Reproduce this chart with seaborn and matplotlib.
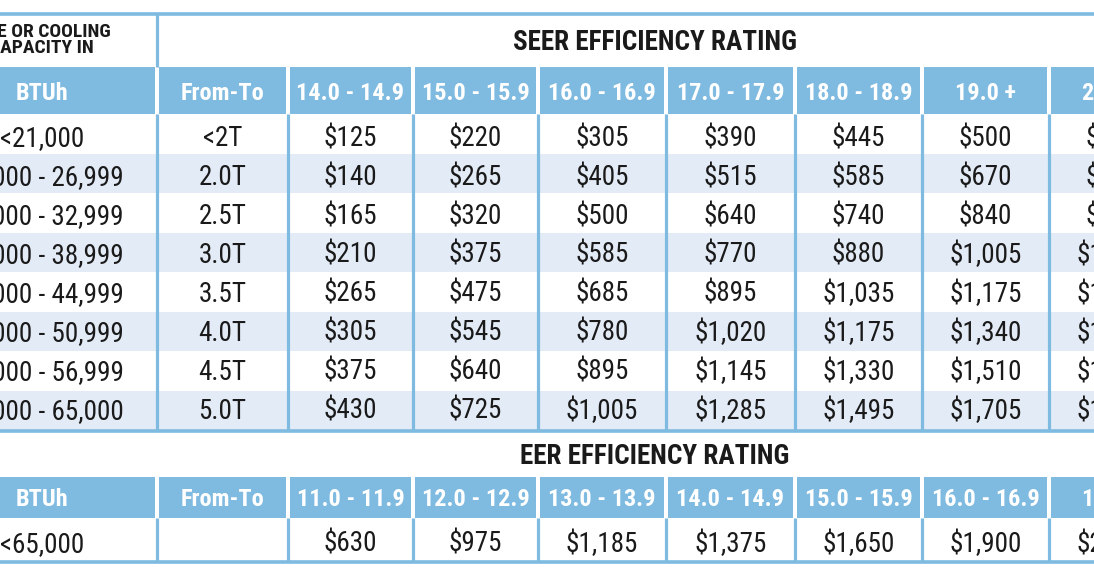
import matplotlib
matplotlib.use("Agg")
import matplotlib.pyplot as plt
from matplotlib.patches import Rectangle
import seaborn as sns

# ==================== data ====================
seer_title = "SEER EFFICIENCY RATING"
eer_title = "EER EFFICIENCY RATING"
corner_title = ["SIZE OR COOLING", "CAPACITY IN"]

seer_btuh = ["<21,000", "21,000 - 26,999", "27,000 - 32,999", "33,000 - 38,999",
             "39,000 - 44,999", "45,000 - 50,999", "51,000 - 56,999", "57,000 - 65,000"]
seer_tons = ["<2T", "2.0T", "2.5T", "3.0T", "3.5T", "4.0T", "4.5T", "5.0T"]
seer_bins = ["14.0 - 14.9", "15.0 - 15.9", "16.0 - 16.9", "17.0 - 17.9",
             "18.0 - 18.9", "19.0 +", "20.0 +"]

seer_14 = [125, 140, 165, 210, 265, 305, 375, 430]
seer_15 = [220, 265, 320, 375, 475, 545, 640, 725]
seer_16 = [305, 405, 500, 585, 685, 780, 895, 1005]
seer_17 = [390, 515, 640, 770, 895, 1020, 1145, 1285]
seer_18 = [445, 585, 740, 880, 1035, 1175, 1330, 1495]
seer_19 = [500, 670, 840, 1005, 1175, 1340, 1510, 1705]
seer_20 = [555, 755, 940, 1130, 1315, 1505, 1695, 1915]   # cut off at right edge, estimated

eer_btuh = ["<65,000"]
eer_tons = [""]
eer_bins = ["11.0 - 11.9", "12.0 - 12.9", "13.0 - 13.9", "14.0 - 14.9",
            "15.0 - 15.9", "16.0 - 16.9", "17.0 +"]
eer_values = [630, 975, 1185, 1375, 1650, 1900, 2150]   # last one cut off, estimated

# ==================== style ====================
sns.set_theme(style="white")
FONT = ["Roboto Condensed", "DejaVu Sans"]
plt.rcParams["font.family"] = FONT

BLUE = "#7fbae0"
STRIPE = "#e3ebf6"
INK = "#1a1a1a"

# column edges in pixels (figure is drawn in pixel coordinates)
COL_EDGES = [-73, 157, 288, 413, 538, 666, 795, 922, 1049, 1176]
SEER_TOP, SEER_HEAD, SEER_BODY, SEER_BOTTOM = 14, 67, 114, 431
EER_TITLE_Y, EER_HEAD, EER_BODY, EER_BOTTOM = 456, 477, 518, 562


def money(v):
    return f"${v:,}"


fig = plt.figure(figsize=(10.94, 5.74), dpi=100)
ax = fig.add_axes([0, 0, 1, 1])
ax.set_xlim(0, 1094)
ax.set_ylim(574, 0)
ax.axis("off")

centers = [(a + b) / 2 for a, b in zip(COL_EDGES[:-1], COL_EDGES[1:])]


def draw_header(y0, y1, labels):
    # blue header cells with white gaps between columns
    for i in range(len(COL_EDGES) - 1):
        ax.add_patch(Rectangle((COL_EDGES[i] + 2, y0), COL_EDGES[i + 1] - COL_EDGES[i] - 4,
                               y1 - y0, color=BLUE, lw=0))
    for x, lab in zip(centers, labels):
        ax.text(x, (y0 + y1) / 2 + 2.5, lab, ha="center", va="center", color="white",
                fontsize=17.5, fontweight="bold", family=FONT)


def draw_body(y0, y1, rows):
    n = len(rows)
    h = (y1 - y0) / n
    for r, row in enumerate(rows):
        if r % 2 == 1:
            ax.add_patch(Rectangle((-80, y0 + r * h), 1300, h, color=STRIPE, lw=0))
        ty = y0 + (r + 0.5) * h + 5 - 0.6 * r
        for x, txt in zip(centers, row):
            ax.text(x, ty, txt, ha="center", va="center",
                    color=INK, fontsize=19.5, family=FONT)
    for xe in COL_EDGES[1:]:
        ax.plot([xe, xe], [y0, y1], color=BLUE, lw=2.3, solid_capstyle="butt")


# ---------- SEER table ----------
ax.plot([-80, 1200], [SEER_TOP, SEER_TOP], color=BLUE, lw=2.6, solid_capstyle="butt")
ax.plot([COL_EDGES[1], COL_EDGES[1]], [SEER_TOP, SEER_HEAD], color=BLUE, lw=2.3,
        solid_capstyle="butt")
ax.text(111, 32, corner_title[0], ha="right", va="center", color=INK,
        fontsize=14, fontweight="bold", family=FONT)
ax.text(94, 48, corner_title[1], ha="right", va="center", color=INK,
        fontsize=14, fontweight="bold", family=FONT)
ax.text(655, 42, seer_title, ha="center", va="center", color=INK,
        fontsize=19.5, fontweight="bold", family=FONT)

draw_header(SEER_HEAD, SEER_BODY, ["BTUh", "From-To"] + seer_bins)

seer_cols = [seer_14, seer_15, seer_16, seer_17, seer_18, seer_19, seer_20]
seer_rows = []
for i in range(len(seer_btuh)):
    seer_rows.append([seer_btuh[i], seer_tons[i]] + [money(c[i]) for c in seer_cols])
draw_body(SEER_BODY, SEER_BOTTOM - 1, seer_rows)
ax.plot([-80, 1200], [SEER_BOTTOM, SEER_BOTTOM], color=BLUE, lw=2.6, solid_capstyle="butt")

# ---------- EER table ----------
ax.text(655, EER_TITLE_Y, eer_title, ha="center", va="center", color=INK,
        fontsize=19.5, fontweight="bold", family=FONT)
draw_header(EER_HEAD, EER_BODY, ["BTUh", "From-To"] + eer_bins)
eer_rows = [[eer_btuh[0], eer_tons[0]] + [money(v) for v in eer_values]]
draw_body(EER_BODY, EER_BOTTOM - 1, eer_rows)
ax.plot([-80, 1200], [EER_BOTTOM, EER_BOTTOM], color=BLUE, lw=2.6, solid_capstyle="butt")

fig.savefig("out.png", dpi=100, facecolor="white")
plt.close(fig)
